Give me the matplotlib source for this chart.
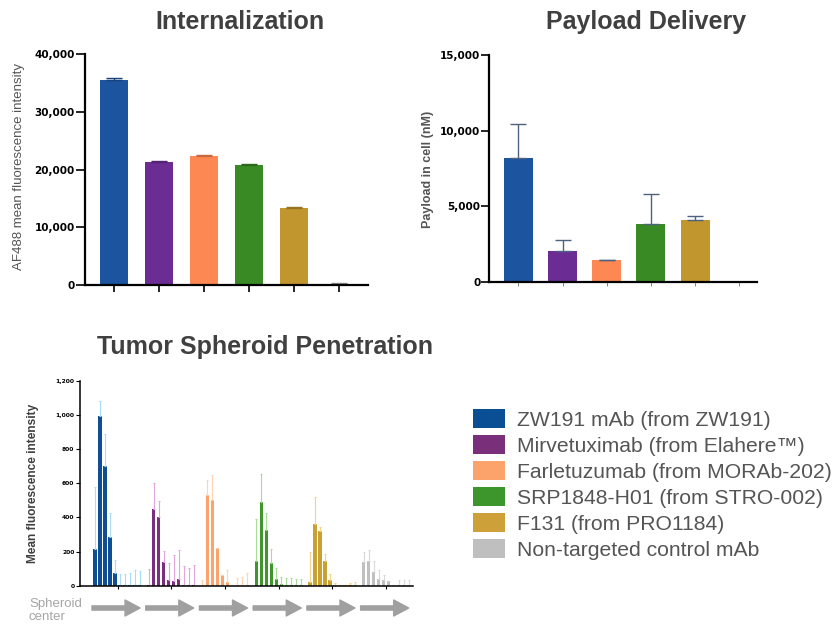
import matplotlib
matplotlib.use('Agg')
import matplotlib.pyplot as plt
import numpy as np
from matplotlib.patches import Rectangle

plt.rcParams['font.family'] = ['Liberation Sans', 'DejaVu Sans']

W, H = 837, 624

agents = ['ZW191 mAb (from ZW191)',
          'Mirvetuximab (from Elahere\u2122)',
          'Farletuzumab (from MORAb-202)',
          'SRP1848-H01 (from STRO-002)',
          'F131 (from PRO1184)',
          'Non-targeted control mAb']

# internalization, AF488 MFI
int_mean = [35600, 21300, 22350, 20800, 13300, 200]
int_sd = [350, 150, 170, 250, 170, 120]

# payload delivery, nM in cell
pay_mean = [8170, 2030, 1440, 3800, 4060, 0]
pay_sd = [2280, 710, 25, 2010, 270, 0]

# spheroid penetration, 10 rings from center outwards per agent
sph_zw191 = [215, 997, 702, 287, 76, 4, 4, 4, 4, 4]
sph_zw191_sd = [365, 88, 189, 141, 72, 64, 64, 70, 88, 82]
sph_mirv = [3, 450, 405, 138, 33, 28, 38, 3, 3, 3]
sph_mirv_sd = [93, 150, 91, 68, 99, 151, 172, 110, 101, 121]
sph_farl = [3, 533, 502, 221, 63, 20, 3, 3, 3, 3]
sph_farl_sd = [28, 87, 145, 0, 0, 70, 0, 40, 46, 69]
sph_srp = [145, 489, 326, 133, 41, 10, 3, 3, 3, 3]
sph_srp_sd = [244, 164, 98, 80, 61, 43, 40, 40, 34, 34]
sph_f131 = [21, 362, 320, 145, 35, 3, 2, 2, 3, 3]
sph_f131_sd = [178, 156, 27, 41, 31, 15, 0, 0, 15, 18]
sph_ctrl = [139, 143, 80, 39, 31, 27, 5, 3, 3, 3]
sph_ctrl_sd = [58, 66, 62, 53, 30, 0, 0, 32, 32, 32]

sph_means = [sph_zw191, sph_mirv, sph_farl, sph_srp, sph_f131, sph_ctrl]
sph_sds = [sph_zw191_sd, sph_mirv_sd, sph_farl_sd, sph_srp_sd, sph_f131_sd, sph_ctrl_sd]

top_colors = ['#1c54a0', '#6b2d94', '#fe8853', '#398a24', '#c1962e', '#bdbdbd']
top_err = ['#17427d', '#552274', '#c86a40', '#2c6b1c', '#977424', '#8a8a8a']
sph_colors = ['#0d4f92', '#7a2e7e', '#fda26a', '#3f962c', '#c9a133', '#c0c0c0']
sph_err = ['#a9dcf5', '#e3a6dc', '#fdd5b5', '#a6dc96', '#f2d489', '#d9d9d9']
leg_colors = ['#0a4f94', '#7a2f7a', '#fca36c', '#3d962b', '#cda039', '#bfbfbf']


def box(l, t, r, b):
    return [l / W, 1 - b / H, (r - l) / W, (b - t) / H]


def style_axes(ax, lw):
    for s in ['top', 'right']:
        ax.spines[s].set_visible(False)
    for s in ['left', 'bottom']:
        ax.spines[s].set_linewidth(lw)
        ax.spines[s].set_color('black')


tick_font = dict(family='DejaVu Sans', weight='bold')

fig = plt.figure(figsize=(W / 100, H / 100), dpi=100)

# --- Internalization ---
ax1 = fig.add_axes(box(85, 54.3, 368, 285))
x = np.arange(len(int_mean))
ax1.bar(x, int_mean, width=0.64, color=top_colors)
for i in x:
    ax1.errorbar(i, int_mean[i], yerr=[[0], [int_sd[i]]], color=top_err[i],
                 capsize=6, elinewidth=1, capthick=1)
ax1.set_xlim(-0.644, 5.644)
ax1.set_ylim(0, 40000)
ax1.set_yticks([0, 10000, 20000, 30000, 40000])
ax1.set_yticklabels(['0', '10,000', '20,000', '30,000', '40,000'], fontsize=7.5, **tick_font)
ax1.set_xticks(x)
ax1.set_xticklabels([])
ax1.tick_params(axis='y', length=6.5, width=1.2, pad=1)
ax1.tick_params(axis='x', length=5, width=1.2)
style_axes(ax1, 1.6)

# --- Payload delivery ---
ax2 = fig.add_axes(box(489.3, 55.3, 757, 281.7))
ax2.bar(x, pay_mean, width=0.656, color=top_colors)
ax2.errorbar(x, pay_mean, yerr=[np.zeros(len(x)), pay_sd], fmt='none',
             ecolor='#4d6180', capsize=5.5, elinewidth=1, capthick=1)
ax2.set_xlim(-0.656, 5.40)
ax2.set_ylim(0, 15000)
ax2.set_yticks([0, 5000, 10000, 15000])
ax2.set_yticklabels(['0', '5,000', '10,000', '15,000'], fontsize=7.5, **tick_font)
ax2.set_xticks(x)
ax2.set_xticklabels([])
ax2.tick_params(axis='y', length=5.5, width=1.2, pad=1)
ax2.tick_params(axis='x', length=3, width=0.5, color='#555555')
style_axes(ax2, 1.6)

# --- Tumor spheroid penetration ---
ax3 = fig.add_axes(box(80, 381, 413, 585.7))
step = 5 / 53.7
for g in range(6):
    xs = g + (np.arange(10) - 4.5) * step
    ax3.bar(xs, sph_means[g], width=0.062, color=sph_colors[g])
    ax3.errorbar(xs, sph_means[g], yerr=[np.zeros(10), sph_sds[g]], fmt='none',
                 ecolor=sph_err[g], capsize=0.8, elinewidth=0.8, capthick=0.8)
ax3.set_xlim(-0.698, 5.5)
ax3.set_ylim(0, 1200)
ax3.set_yticks(np.arange(0, 1201, 200))
ax3.set_yticklabels(['0', '200', '400', '600', '800', '1,000', '1,200'], fontsize=4.3, **tick_font)
ax3.set_xticks(np.arange(6))
ax3.set_xticklabels([])
ax3.tick_params(axis='y', length=3, width=0.8, pad=1)
ax3.tick_params(axis='x', length=2.5, width=0.8)
style_axes(ax3, 1.1)

# arrows pointing outward from spheroid center
for g in range(6):
    ax3.annotate('', xy=(g + 0.42, 16), xytext=(g - 0.475, 16),
                 xycoords=('data', 'figure pixels'), textcoords=('data', 'figure pixels'),
                 arrowprops=dict(width=3.0, headwidth=11.5, headlength=10.8,
                                 color='#a0a0a0', shrink=0), annotation_clip=False)

fig.text(29 / W, 1 - 607 / H, 'Spheroid', fontsize=9.5, color='#a6a6a6', va='baseline')
fig.text(29 / W, 1 - 619.5 / H, 'center', fontsize=9.5, color='#a6a6a6', va='baseline')

# titles and axis labels
title_kw = dict(fontsize=18, weight='bold', color='#404040', ha='center', va='baseline')
fig.text(240 / W, 1 - 29.3 / H, 'Internalization', **title_kw)
fig.text(646 / W, 1 - 29.3 / H, 'Payload Delivery', **title_kw)
fig.text(265 / W, 1 - 354.3 / H, 'Tumor Spheroid Penetration', **title_kw)

fig.text(19 / W, 1 - 167 / H, 'AF488 mean fluorescence intensity', rotation=90,
         fontsize=9.5, color='#555555', ha='center', va='center')
fig.text(428 / W, 1 - 169 / H, 'Payload in cell (nM)', rotation=90,
         fontsize=9, weight='bold', color='#555555', ha='center', va='center')
fig.text(33 / W, 1 - 483 / H, 'Mean fluorescence intensity', rotation=90,
         fontsize=8.6, weight='bold', color='#404040', ha='center', va='center')

# legend
for k, name in enumerate(agents):
    yc = 418.5 + 25.9 * k
    fig.patches.append(Rectangle((473.3 / W, 1 - (yc + 9.5) / H), 31.7 / W, 19 / H,
                                 transform=fig.transFigure, facecolor=leg_colors[k],
                                 edgecolor='none'))
    fig.text(517 / W, 1 - (yc + 7.5) / H, name, fontsize=15.2, color='#555555', va='baseline')

fig.savefig('out.png', dpi=100)
